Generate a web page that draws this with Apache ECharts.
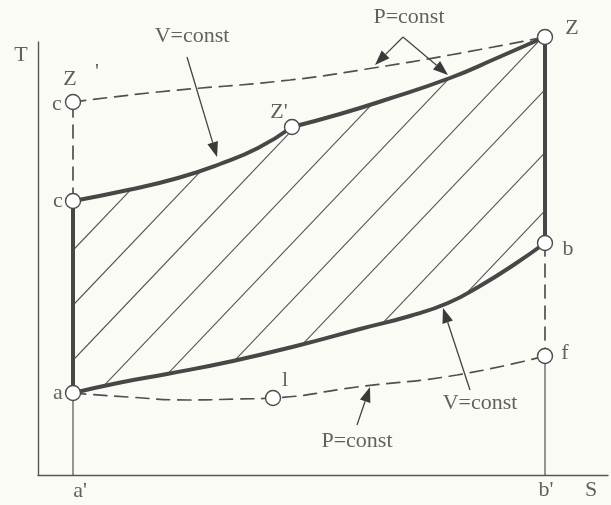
<!DOCTYPE html>
<html>
<head>
<meta charset="utf-8">
<script src="https://cdn.jsdelivr.net/npm/echarts@6/dist/echarts.min.js"></script>
<style>
html,body{margin:0;padding:0;background:#fbfbf6;}
#chart{width:611px;height:505px;}
</style>
</head>
<body>
<div id="chart"></div>
<script>
// ---- Data (arbitrary S / T units) ----
const upperVconst = [[35,274],[90,285],[140,297],[182,311],[220,327],[254,348]];   // c -> Z'  (V=const, thick)
const upperPconst = [[254,348],[302,361],[347,375],[412,397],[459,417],[507,438]]; // Z' -> Z (P=const, thick)
const lowerVconst = [[35,82],[80,92],[129,101],[195,114],[262,130],[322,146],[372,159],[410,172],[442,189],[477,211],[507,232]]; // a -> b
const dashUpperP  = [[35,373],[120,383],[252,395],[335,407],[412,420],[507,438]]; // c' -> Z (P=const, dashed)
const dashLowerP  = [[35,82],[90,78],[150,75],[200,76],[235,77],[319,88],[419,100],[507,119]]; // a -> l -> f
const ptA  = [35,82];
const ptC  = [35,274];
const ptC2 = [35,373];
const ptZ1 = [254,348];
const ptZ  = [507,438];
const ptB  = [507,232];
const ptF  = [507,119];
const ptL  = [235,77];
const hatchSlope   = 1.05;
const hatchOffsets = [188,133,78,20,-35,-92,-147,-210,-268];
// arrows: [fromS, fromT, toS, toT]
const arrows = [
  [149,418,179,318],
  [365,438,337,410],
  [365,438,410,400],
  [432,85,405,167],
  [319,50,332,88]
];
// text annotations: [text, S, T]
const labels = [
  ['T',-17,420],
  ['Z',32,396],
  ["'",59,403],
  ['c',19,371],
  ['c',20,274],
  ["Z'",241,363],
  ['Z',534,447],
  ['b',530,226],
  ['f',527,122],
  ['a',20,82],
  ['l',247,95],
  ["a'",42,-16],
  ["b'",508,-15],
  ['S',553,-15],
  ['V=const',154,439],
  ['P=const',371,458],
  ['V=const',442,72],
  ['P=const',319,34]
];
const S_RANGE = [0,570];
const T_RANGE = [0,433];

// ---- Styles ----
const DARK = '#474747';
const THIN = '#505050';
const FONT = 'Liberation Serif';

function lineSeries(data, width, type, smooth, color){
  return {
    type:'line', data:data, smooth:smooth, symbol:'none', clip:false,
    lineStyle:{color:color||DARK, width:width, type:type||'solid', cap:'round'},
    z:3, silent:true
  };
}

// closed region: c -> Z' -> Z -> b -> a
const hatchPoly = [].concat(
  upperVconst,
  upperPconst.slice(1),
  lowerVconst.slice().reverse()
);

function intersectLine(p1,p2,poly){
  const dx=p2[0]-p1[0], dy=p2[1]-p1[1];
  const ts=[];
  const n=poly.length;
  for(let i=0;i<n;i++){
    const a=poly[i], b=poly[(i+1)%n];
    const ex=b[0]-a[0], ey=b[1]-a[1];
    const den = dx*ey - dy*ex;
    if(Math.abs(den)<1e-9) continue;
    const wx=a[0]-p1[0], wy=a[1]-p1[1];
    const t=(wx*ey - wy*ex)/den;
    const u=(wx*dy - wy*dx)/den;
    if(u>=0 && u<1) ts.push(t);
  }
  ts.sort((x,y)=>x-y);
  const segs=[];
  for(let i=0;i+1<ts.length;i+=2){
    segs.push([[p1[0]+dx*ts[i],p1[1]+dy*ts[i]],[p1[0]+dx*ts[i+1],p1[1]+dy*ts[i+1]]]);
  }
  return segs;
}

const chart = echarts.init(document.getElementById('chart'), null, {renderer:'canvas'});
const option = {
  backgroundColor:'#fbfbf6',
  animation:false,
  grid:{left:38, top:42, right:3, bottom:30, containLabel:false},
  xAxis:{type:'value', min:S_RANGE[0], max:S_RANGE[1],
    axisLine:{show:true, lineStyle:{color:'#555', width:1.4}},
    axisTick:{show:false}, axisLabel:{show:false}, splitLine:{show:false}},
  yAxis:{type:'value', min:T_RANGE[0], max:T_RANGE[1],
    axisLine:{show:true, lineStyle:{color:'#555', width:1.4}},
    axisTick:{show:false}, axisLabel:{show:false}, splitLine:{show:false}},
  series:[
    // hatch
    {
      type:'custom', coordinateSystem:'cartesian2d', data:[[0,0]], silent:true, z:1, clip:false,
      renderItem:function(params, api){
        const poly = hatchPoly.map(p=>api.coord(p));
        const children=[];
        hatchOffsets.forEach(function(d){
          const p1=api.coord([S_RANGE[0], hatchSlope*S_RANGE[0]+d]);
          const p2=api.coord([S_RANGE[1], hatchSlope*S_RANGE[1]+d]);
          intersectLine(p1,p2,poly).forEach(function(s){
            children.push({type:'line', shape:{x1:s[0][0],y1:s[0][1],x2:s[1][0],y2:s[1][1]},
              style:{stroke:'#555', lineWidth:1.1}});
          });
        });
        return {type:'group', children:children};
      }
    },
    // thin verticals to S axis
    lineSeries([[ptA[0],0],ptA],1.2,'solid',false,THIN),
    lineSeries([[ptF[0],0],ptF],1.2,'solid',false,THIN),
    // dashed
    lineSeries([ptC,ptC2],1.7,[13,8],false,THIN),
    lineSeries([ptB,ptF],1.7,[13,8],false,THIN),
    lineSeries(dashUpperP,1.7,[13,8],0.5,THIN),
    lineSeries(dashLowerP,1.7,[13,8],0.5,THIN),
    // thick cycle
    lineSeries([ptA,ptC],4,'solid',false),
    lineSeries([ptZ,ptB],4,'solid',false),
    lineSeries(upperVconst,4,'solid',0.5),
    lineSeries(upperPconst,4,'solid',0.5),
    lineSeries(lowerVconst,4,'solid',0.5),
    // arrows
    {
      type:'custom', coordinateSystem:'cartesian2d', silent:true, z:4, clip:false,
      data:arrows,
      encode:{x:0,y:1},
      renderItem:function(params, api){
        const a=api.coord([api.value(0),api.value(1)]);
        const b=api.coord([api.value(2),api.value(3)]);
        const dx=b[0]-a[0], dy=b[1]-a[1];
        const len=Math.sqrt(dx*dx+dy*dy);
        const ux=dx/len, uy=dy/len;
        const hl=15, hw=5.5;
        const base=[b[0]-ux*hl, b[1]-uy*hl];
        return {type:'group', children:[
          {type:'line', shape:{x1:a[0],y1:a[1],x2:base[0],y2:base[1]}, style:{stroke:'#444', lineWidth:1.3}},
          {type:'polygon', shape:{points:[b,[base[0]-uy*hw,base[1]+ux*hw],[base[0]+uy*hw,base[1]-ux*hw]]},
            style:{fill:'#3a3a3a'}}
        ]};
      }
    },
    // state points
    {
      type:'scatter', data:[ptA,ptC,ptC2,ptZ1,ptZ,ptB,ptF,ptL], symbol:'circle', symbolSize:15,
      itemStyle:{color:'#ffffff', borderColor:'#4a4a4a', borderWidth:1.4, opacity:1}, z:6, silent:true, clip:false
    },
    // labels
    {
      type:'scatter', symbolSize:1, z:7, silent:true, clip:false,
      itemStyle:{color:'rgba(0,0,0,0)'},
      data:labels.map(l=>({name:l[0], value:[l[1],l[2]]})),
      label:{show:true, position:'inside', formatter:'{b}', fontFamily:FONT, fontSize:22, color:'#3a3a3a'}
    }
  ]
};
chart.setOption(option);
</script>
</body>
</html>
